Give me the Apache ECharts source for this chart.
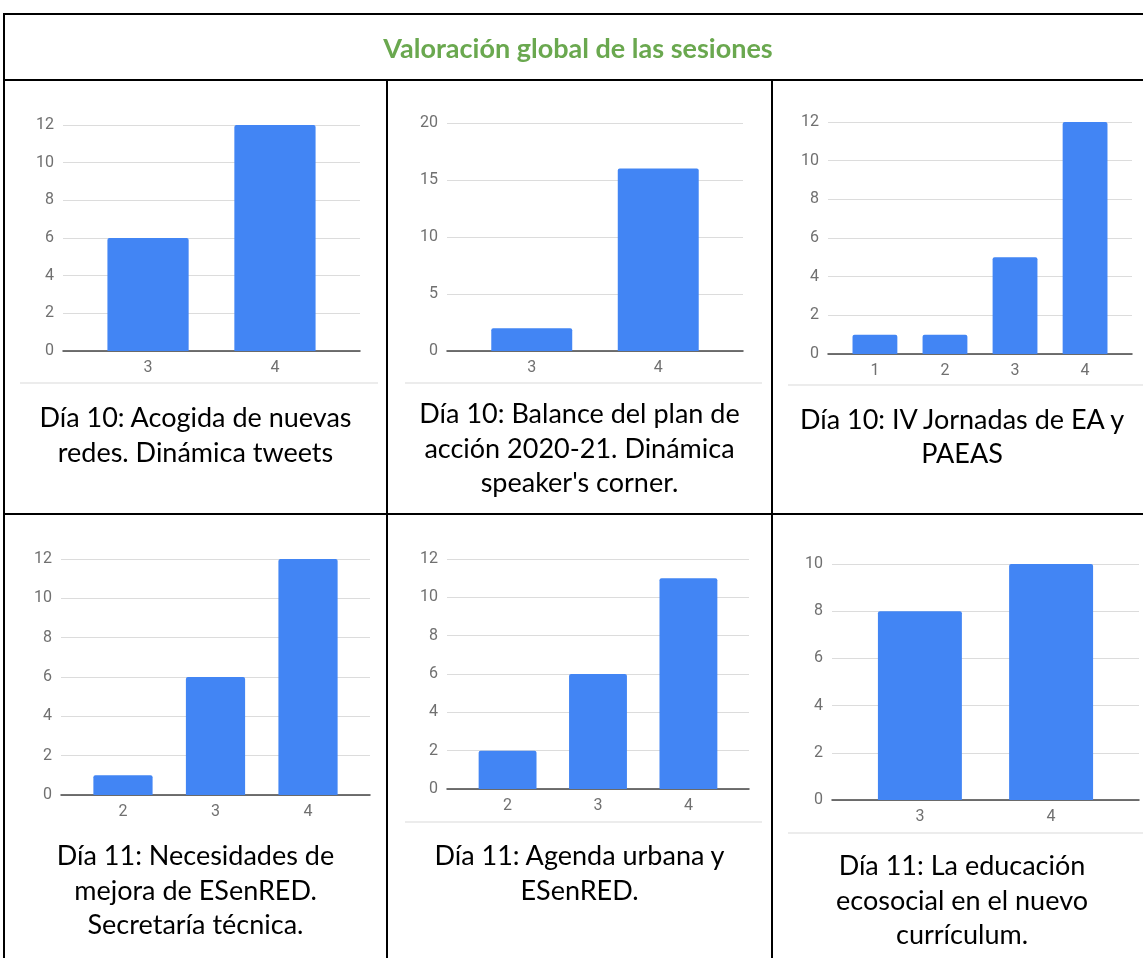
<!DOCTYPE html>
<html lang="es">
<head>
<meta charset="utf-8">
<title>Valoración global de las sesiones</title>
<script src="https://cdn.jsdelivr.net/npm/echarts@6/dist/echarts.min.js"></script>
<style>
  html, body { margin: 0; padding: 0; background: #fff; }
  body { width: 1143px; height: 958px; overflow: hidden; position: relative; }
  #chart { position: absolute; left: 0; top: 0; width: 1143px; height: 958px; }
  .rule { position: absolute; background: #000; }
  .hint { position: absolute; height: 2px; background: #ececec; }
  .title { position: absolute; left: 0; width: 1156px; top: 32px; text-align: center;
           font: 700 27px/31px Lato, sans-serif; color: #6aa84f; white-space: nowrap; }
  .cap { position: absolute; text-align: center; font: 27px/34.5px Lato, sans-serif;
         color: #000; white-space: nowrap; }
</style>
</head>
<body>
<div id="chart"></div>

<!-- bordes de la tabla -->
<div class="rule" style="left:3px;top:13px;width:1160px;height:2px"></div>
<div class="rule" style="left:3px;top:13px;width:2px;height:960px"></div>
<div class="rule" style="left:3px;top:79px;width:1160px;height:2px"></div>
<div class="rule" style="left:3px;top:513px;width:1160px;height:2px"></div>
<div class="rule" style="left:386px;top:79px;width:2px;height:900px"></div>
<div class="rule" style="left:771px;top:79px;width:2px;height:900px"></div>

<!-- borde inferior de las imágenes de gráfico -->
<div class="hint" style="left:20px;top:382px;width:358px"></div>
<div class="hint" style="left:405px;top:382px;width:357px"></div>
<div class="hint" style="left:788px;top:384px;width:360px"></div>
<div class="hint" style="left:405px;top:821px;width:357px"></div>
<div class="hint" style="left:788px;top:832px;width:360px"></div>

<div class="title" id="title"></div>
<div id="captions"></div>

<script>
// datos: puntuación (1-4) y número de respuestas por sesión
const titleText = 'Valoración global de las sesiones'

const cats1 = ['3', '4']
const vals1 = [6, 12]
const cats2 = ['3', '4']
const vals2 = [2, 16]
const cats3 = ['1', '2', '3', '4']
const vals3 = [1, 1, 5, 12]
const cats4 = ['2', '3', '4']
const vals4 = [1, 6, 12]
const cats5 = ['2', '3', '4']
const vals5 = [2, 6, 11]
const cats6 = ['3', '4']
const vals6 = [8, 10]

const yMax = [12, 20, 12, 12, 12, 10]
const yStep = [2, 5, 2, 2, 2, 2]

const captions = [
  ['Día 10: Acogida de nuevas', 'redes. Dinámica tweets'],
  ['Día 10: Balance del plan de', 'acción 2020-21. Dinámica', "speaker's corner."],
  ['Día 10: IV Jornadas de EA y', 'PAEAS'],
  ['Día 11: Necesidades de', 'mejora de ESenRED.', 'Secretaría técnica.'],
  ['Día 11: Agenda urbana y', 'ESenRED.'],
  ['Día 11: La educación', 'ecosocial en el nuevo', 'currículum.']
]

// maquetación (px): área de trazado de cada gráfico [left, top, width, height]
const frames = [
  [63, 125, 297, 226], [447, 123, 296, 228], [828, 122, 304, 232],
  [61, 559, 309, 236], [447, 559, 302, 230], [832, 564, 307, 236]
]
// celdas de la tabla [left, width] y posición del texto
const cellCols = [[5, 381], [388, 383], [773, 378]]
const capTops = [400, 396, 401.5, 838, 838, 848]
const PAD = 0.67 // margen del eje x numérico a cada lado

const cats = [cats1, cats2, cats3, cats4, cats5, cats6]
const vals = [vals1, vals2, vals3, vals4, vals5, vals6]

document.getElementById('title').textContent = titleText
const capBox = document.getElementById('captions')
captions.forEach((lines, i) => {
  const [left, width] = cellCols[i % 3]
  const d = document.createElement('div')
  d.className = 'cap'
  d.style.left = left + 'px'
  d.style.width = width + 'px'
  d.style.top = capTops[i] + 'px'
  lines.forEach((t, k) => {
    if (k) d.appendChild(document.createElement('br'))
    d.appendChild(document.createTextNode(t))
  })
  capBox.appendChild(d)
})

const labelStyle = { color: '#707070', fontSize: 16, fontFamily: 'Roboto, sans-serif' }

const grid = [], xAxis = [], yAxis = [], series = []
cats.forEach((c, i) => {
  const nums = c.map(Number)
  const [l, t, w, h] = frames[i]
  grid.push({ left: l, top: t, width: w, height: h })
  xAxis.push({
    type: 'value', gridIndex: i,
    min: nums[0] - PAD, max: nums[nums.length - 1] + PAD,
    splitLine: { show: false },
    axisTick: { show: false },
    axisLine: { show: true, lineStyle: { color: '#444', width: 1.5 } },
    axisLabel: { ...labelStyle, margin: 9, customValues: nums, formatter: v => String(v) }
  })
  yAxis.push({
    type: 'value', gridIndex: i,
    min: 0, max: yMax[i], interval: yStep[i],
    axisLine: { show: false }, axisTick: { show: false },
    splitLine: { lineStyle: { color: '#dcdcdc', width: 1 } },
    axisLabel: { ...labelStyle, margin: 9 }
  })
  series.push({
    type: 'bar', xAxisIndex: i, yAxisIndex: i,
    barWidth: '64%',
    itemStyle: { color: '#4285f4', borderRadius: [2, 2, 0, 0] },
    data: nums.map((n, k) => [n, vals[i][k]])
  })
})

const chart = echarts.init(document.getElementById('chart'), null, { renderer: 'canvas' })
chart.setOption({ animation: false, grid, xAxis, yAxis, series })
</script>
</body>
</html>
